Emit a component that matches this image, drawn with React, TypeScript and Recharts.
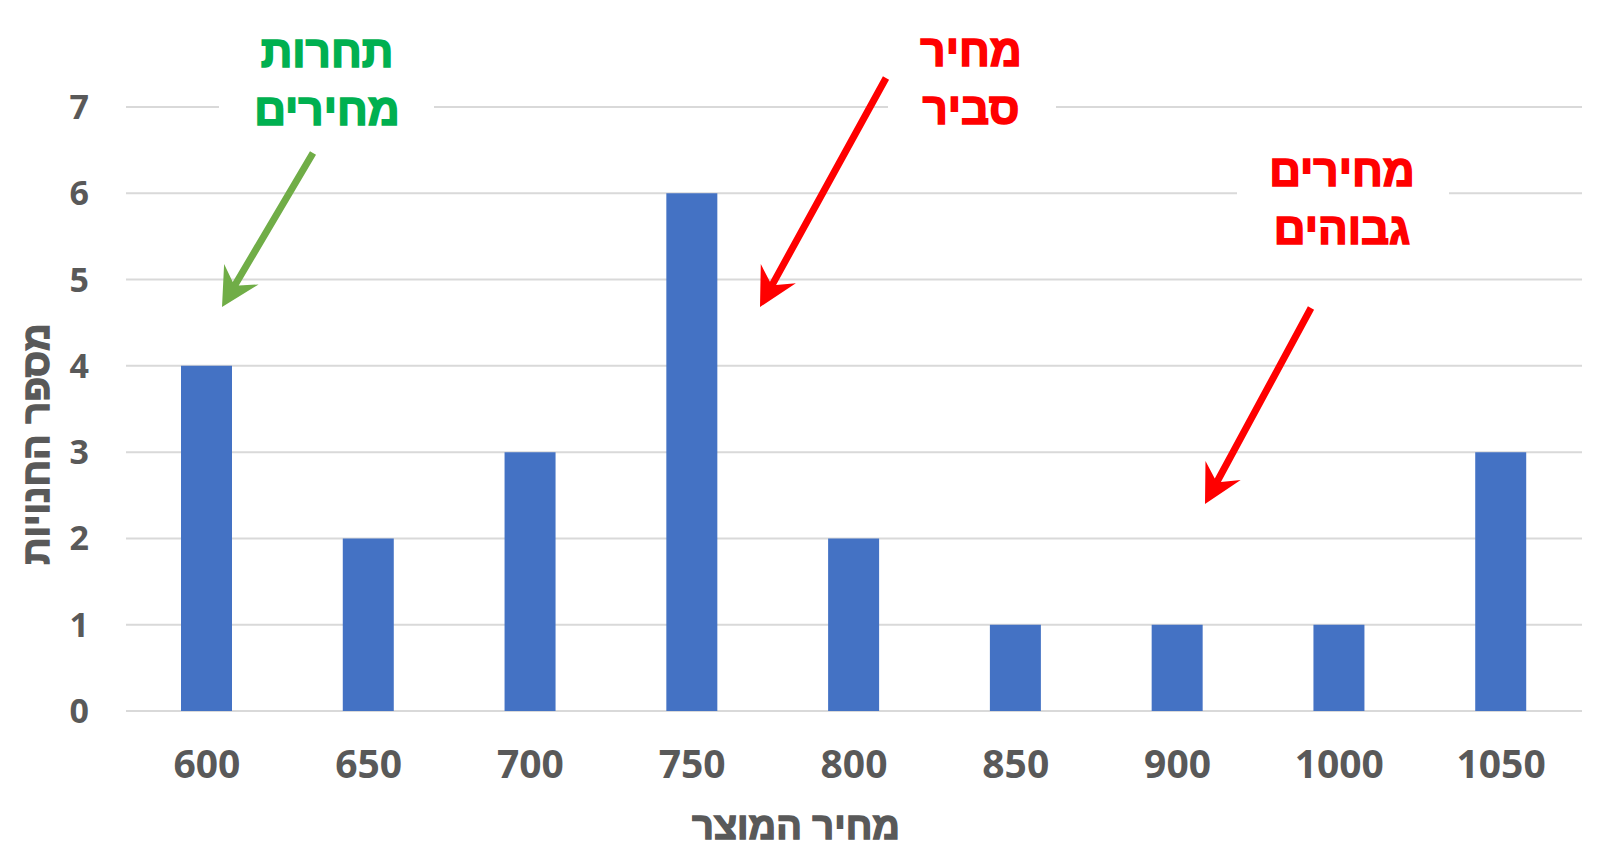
import React from 'react';
import { BarChart, Bar, XAxis, YAxis, CartesianGrid } from 'recharts';

// chart values
const prices = ['600', '650', '700', '750', '800', '850', '900', '1000', '1050'];
const storeCounts = [4, 2, 3, 6, 2, 1, 1, 1, 3];
const yTicks = [0, 1, 2, 3, 4, 5, 6, 7];

const data = prices.map((price, i) => ({ price, count: storeCounts[i] }));

const axisGray = '#595959';
const digitFont = "'Open Sans', 'Liberation Sans', sans-serif";
const hebrewFont = "'Liberation Sans', 'DejaVu Sans', sans-serif";

// filled arrow outline: shaft + notched head
const arrowPoints = (x1: number, y1: number, x2: number, y2: number, w = 3.5, len = 38, half = 20, notch = 11) => {
  const dx = x2 - x1;
  const dy = y2 - y1;
  const d = Math.hypot(dx, dy);
  const ux = dx / d;
  const uy = dy / d;
  const px = -uy;
  const py = ux;
  const jx = x2 - ux * (len - notch);
  const jy = y2 - uy * (len - notch);
  const bx = x2 - ux * len;
  const by = y2 - uy * len;
  const pts = [
    [x1 + px * w, y1 + py * w],
    [jx + px * w, jy + py * w],
    [bx + px * half, by + py * half],
    [x2, y2],
    [bx - px * half, by - py * half],
    [jx - px * w, jy - py * w],
    [x1 - px * w, y1 - py * w],
  ];
  return pts.map((p) => p.join(',')).join(' ');
};

const Note = ({ x, y, lines, color, boxX, boxW, boxY, boxH }: any) => (
  <g>
    <rect x={boxX} y={boxY} width={boxW} height={boxH} fill="#ffffff" />
    {lines.map((t: string, i: number) => (
      <text
        key={t}
        x={x}
        y={y + i * 58}
        textAnchor="middle"
        direction="rtl"
        fontSize={44}
        fontWeight="bold"
        fill={color}
        stroke={color}
        strokeWidth={1.6}
        fontFamily={hebrewFont}
      >
        {t}
      </text>
    ))}
  </g>
);

export default function App() {
  return (
    <div style={{ position: 'absolute', left: 0, top: 0, width: 1600, height: 854, background: '#ffffff' }}>
      <BarChart
        width={1600}
        height={854}
        data={data}
        margin={{ top: 107, right: 18, bottom: 43, left: 26 }}
        barCategoryGap={0}
      >
        <CartesianGrid vertical={false} stroke="#d9d9d9" strokeWidth={2} />
        <XAxis
          dataKey="price"
          axisLine={false}
          tickLine={false}
          tickSize={0}
          tickMargin={39}
          height={100}
          tick={{ fontSize: 39, fontWeight: 'bold', fill: axisGray, fontFamily: digitFont }}
        />
        <YAxis
          domain={[0, 7]}
          ticks={yTicks}
          axisLine={false}
          tickLine={false}
          tickSize={0}
          tickMargin={37}
          width={100}
          tick={{ fontSize: 34, fontWeight: 'bold', fill: axisGray, fontFamily: digitFont }}
        />
        <Bar dataKey="count" fill="#4472C4" barSize={51} isAnimationActive={false} />
      </BarChart>

      <svg width={1600} height={854} style={{ position: 'absolute', left: 0, top: 0, pointerEvents: 'none' }}>
        <text
          x={796}
          y={839}
          textAnchor="middle"
          direction="rtl"
          fontSize={38}
          fontWeight="bold"
          fill={axisGray}
          stroke={axisGray}
          strokeWidth={1.4}
          fontFamily={hebrewFont}
        >
          מחיר המוצר
        </text>
        <text
          transform="translate(49, 444) rotate(-90)"
          textAnchor="middle"
          direction="rtl"
          fontSize={38}
          fontWeight="bold"
          fill={axisGray}
          stroke={axisGray}
          strokeWidth={1.4}
          fontFamily={hebrewFont}
        >
          מספר החנויות
        </text>

        <Note x={327} y={67} lines={['תחרות', 'מחירים']} color="#00B050" boxX={219} boxW={215} boxY={20} boxH={118} />
        <Note x={971} y={66} lines={['מחיר', 'סביר']} color="#FF0000" boxX={888} boxW={168} boxY={20} boxH={118} />
        <Note x={1342} y={186} lines={['מחירים', 'גבוהים']} color="#FF0000" boxX={1237} boxW={212} boxY={142} boxH={112} />

        <polygon points={arrowPoints(313, 153, 222, 307)} fill="#70AD47" />
        <polygon points={arrowPoints(886, 78, 760, 307)} fill="#FF0000" />
        <polygon points={arrowPoints(1311, 308, 1205, 504)} fill="#FF0000" />
      </svg>
    </div>
  );
}
